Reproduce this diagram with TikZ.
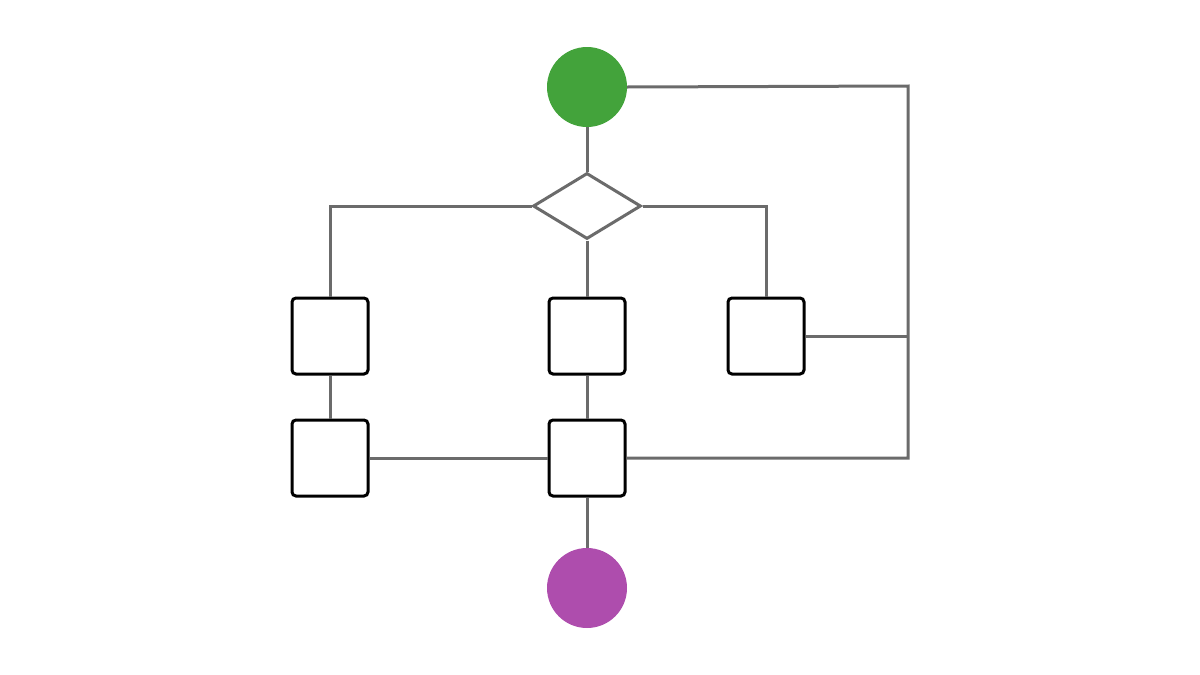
\documentclass[tikz,border=0pt]{standalone}
\usetikzlibrary{shapes.geometric}
\definecolor{startgreen}{HTML}{43A33B}
\definecolor{endpurple}{HTML}{AE4DAD}
\definecolor{linegray}{HTML}{6B6B6B}
\begin{document}
\begin{tikzpicture}[x=1pt,y=-1pt,
  every node/.style={inner sep=0pt},
  stepbox/.style={draw=black,line width=3pt,rounded corners=4pt,fill=white,minimum size=76pt},
  dot/.style={circle,minimum size=80pt},
  wire/.style={draw=linegray,line width=3pt}]
\useasboundingbox (0,0) rectangle (1200,675);

\node[dot,fill=startgreen] (start) at (587,87) {};
\node[diamond,draw=linegray,line width=3pt,fill=white,minimum width=108pt,minimum height=66pt] (choice) at (587,206) {};
\node[stepbox] (left) at (330,336) {};
\node[stepbox] (mid) at (587,336) {};
\node[stepbox] (right) at (766,336) {};
\node[stepbox] (lowleft) at (330,458) {};
\node[stepbox] (lowmid) at (587,458) {};
\node[dot,fill=endpurple] (stop) at (587,588) {};

\coordinate (c1) at (908,86);
\coordinate (c2) at (908,458);

% connectors
\begin{scope}[on background layer/.style={}]
\draw[wire] (start) -- (choice);
\draw[wire] (choice.west) -| (left.north);
\draw[wire] (choice.east) -| (right.north);
\draw[wire] (choice.south) -- (mid.north);
\draw[wire] (mid) -- (lowmid);
\draw[wire] (left) -- (lowleft);
\draw[wire] (lowleft) -- (lowmid);
\draw[wire] (lowmid) -- (stop);
\draw[wire] (start.east) -- (c1) -- (c2) -- (lowmid.east);
\draw[wire] (right.east) -- (right.east -| c1);
\end{scope}
\end{tikzpicture}
\end{document}
